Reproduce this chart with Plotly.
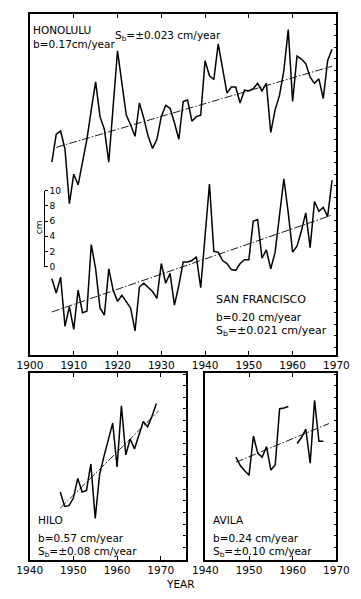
import plotly.graph_objects as go

W, H = 361, 599

# ---- annual mean sea level, cm (Honolulu shifted upward on the shared axis) ----
years_top = list(range(1905, 1970))
honolulu = [13.8, 17.5, 17.9, 15.5, 8.3, 12.2, 10.8, 13.8, 16.8, 20.7,
            24.4, 19.8, 18.1, 13.8, 21.1, 28.5, 24.2, 20.0, 18.7, 17.2,
            21.6, 19.6, 17.2, 15.6, 16.8, 19.8, 21.3, 20.9, 19.0, 16.8,
            21.8, 22.0, 19.2, 19.8, 20.0, 27.2, 25.2, 24.7, 29.4, 26.3,
            22.9, 23.7, 23.7, 21.6, 23.3, 23.2, 23.5, 24.2, 23.2, 24.2,
            17.7, 20.7, 22.6, 25.9, 31.3, 21.8, 27.8, 27.4, 26.8, 25.0,
            24.2, 24.8, 22.2, 27.2, 28.7]
san_francisco = [-1.6, -3.5, -1.4, -7.9, -5.3, -8.3, -3.1, -6.1, -5.9, 2.9,
                 -0.3, -5.5, -6.4, -0.3, -3.1, -4.6, -3.8, -4.6, -5.5, -8.5,
                 -2.7, -2.2, -2.7, -3.3, -4.2, 0.4, -2.2, -0.9, -5.1, -2.5,
                 0.6, 0.6, 0.8, 1.3, -2.8, 3.8, 10.9, 2.0, 1.9, 0.8,
                 0.4, -0.4, -0.5, 0.4, 0.9, 0.9, 6.0, 6.2, 1.1, 2.2,
                 -0.3, 1.9, 7.1, 11.6, 7.1, 1.9, 2.7, 4.7, 7.1, 2.5,
                 8.6, 7.3, 7.8, 6.6, 11.4]

years_hilo = list(range(1947, 1970))
hilo = [8.8, 6.9, 7.0, 8.0, 10.6, 8.8, 9.0, 12.5, 5.3, 11.1,
        13.5, 15.8, 17.9, 12.1, 20.2, 13.7, 15.8, 14.5, 16.4, 18.1,
        17.4, 18.8, 20.5]

years_avila = list(range(1947, 1968))
avila = [13.4, 12.3, 11.6, 11.0, 16.2, 13.9, 13.4, 14.8, 11.7, 12.4,
         19.8, 19.9, 20.1, None, 15.2, 16.0, 17.1, 12.6, 20.9, 15.5,
         15.5]

# ---- least-squares trends: slope b (cm/year) through a central point ----
trend_station = ["HONOLULU", "SAN FRANCISCO", "HILO", "AVILA"]
trend_b = [0.17, 0.20, 0.57, 0.24]
trend_sb = ["0.023", "0.021", "0.08", "0.10"]
trend_mid_year = [1937.5, 1937.0, 1958.2, 1957.7]
trend_mid_value = [21.1, 0.4, 13.05, 15.3]
trend_first = [1906, 1905, 1947, 1947]
trend_last = [1969, 1969, 1969.5, 1968.3]
trend_axes = [("x", "y"), ("x", "y"), ("x2", "y2"), ("x3", "y3")]

scale_ticks = [0, 2, 4, 6, 8, 10]
top_ticks = list(range(1900, 1971, 10))
low_ticks = list(range(1940, 1971, 10))

FONT = "DejaVu Sans"
PX_PER_CM = 7.7


def py(px):
    """Paper fraction from a pixel row measured from the top."""
    return 1 - px / H


def px_(px):
    return px / W


fig = go.Figure()

series_line = dict(color="black", width=1.5)
trend_line = dict(color="black", width=0.9, dash="8px,2px,1.5px,2px")

fig.add_trace(go.Scatter(x=years_top, y=honolulu, mode="lines", line=series_line,
                         xaxis="x", yaxis="y", showlegend=False))
fig.add_trace(go.Scatter(x=years_top, y=san_francisco, mode="lines", line=series_line,
                         xaxis="x", yaxis="y", showlegend=False))
fig.add_trace(go.Scatter(x=years_hilo, y=hilo, mode="lines", line=series_line,
                         xaxis="x2", yaxis="y2", showlegend=False))
fig.add_trace(go.Scatter(x=years_avila, y=avila, mode="lines", line=series_line,
                         connectgaps=False, xaxis="x3", yaxis="y3", showlegend=False))

for b, ym, vm, y0, y1, (xa, ya) in zip(trend_b, trend_mid_year, trend_mid_value,
                                        trend_first, trend_last, trend_axes):
    xs = [y0, y1]
    ys = [vm + b * (x - ym) for x in xs]
    fig.add_trace(go.Scatter(x=xs, y=ys, mode="lines", line=trend_line,
                             xaxis=xa, yaxis=ya, showlegend=False))

# empty trace so the free-standing scale bar axis is drawn
fig.add_trace(go.Scatter(x=[None], y=[None], mode="lines", xaxis="x", yaxis="y4",
                         showlegend=False, hoverinfo="skip"))

# pixel frame of each panel
top_frame = dict(left=18.3, right=348.5, top=9.5, bottom=356.0)
hilo_frame = dict(left=18.0, right=186.0, top=374.0, bottom=564.0)
avila_frame = dict(left=207.3, right=348.5, top=374.0, bottom=564.0)
ZERO_ROW = 266.0  # pixel row of 0 cm on the scale bar

axis_common = dict(showline=True, linecolor="black", linewidth=1.5, showgrid=False,
                   zeroline=False, color="black", ticklabeloverflow="allow",
                   tickfont=dict(family=FONT, size=10.5, color="black"))

x_common = dict(axis_common, ticks="inside", ticklen=4, tickwidth=1, mirror="ticks")
y_common = dict(axis_common, side="right", ticks="inside", ticklen=3, tickwidth=1,
                mirror=True, showticklabels=False, tick0=0, dtick=1.524)

top_range = [(ZERO_ROW - top_frame["bottom"]) / PX_PER_CM,
             (ZERO_ROW - top_frame["top"]) / PX_PER_CM]
low_top_cm = 24.55
low_range = [low_top_cm - (hilo_frame["bottom"] - hilo_frame["top"]) / PX_PER_CM,
             low_top_cm]
hilo_right = 1940 + (hilo_frame["right"] - hilo_frame["left"]) / (
    (avila_frame["right"] - avila_frame["left"]) / 30)

fig.update_layout(
    width=W, height=H,
    margin=dict(l=0, r=0, t=0, b=0),
    paper_bgcolor="white", plot_bgcolor="rgba(0,0,0,0)",
    font=dict(family=FONT, color="black"),
    xaxis=dict(x_common, domain=[px_(top_frame["left"]), px_(top_frame["right"])],
               range=[1900, 1970], tickvals=top_ticks, anchor="y"),
    yaxis=dict(y_common, domain=[py(top_frame["bottom"]), py(top_frame["top"])],
               range=top_range, anchor="x"),
    xaxis2=dict(x_common, domain=[px_(hilo_frame["left"]), px_(hilo_frame["right"])],
                range=[1940, hilo_right], tickvals=low_ticks, anchor="y2"),
    yaxis2=dict(y_common, domain=[py(hilo_frame["bottom"]), py(hilo_frame["top"])],
                range=low_range, anchor="x2"),
    xaxis3=dict(x_common, domain=[px_(avila_frame["left"]), px_(avila_frame["right"])],
                range=[1940, 1970], tickvals=low_ticks, anchor="y3"),
    yaxis3=dict(y_common, domain=[py(avila_frame["bottom"]), py(avila_frame["top"])],
                range=low_range, anchor="x3"),
    yaxis4=dict(domain=[py(ZERO_ROW), py(ZERO_ROW - 10 * PX_PER_CM)], range=[0, 10],
                anchor="free", position=px_(33), side="right",
                showline=True, linecolor="black", linewidth=1, showgrid=False,
                zeroline=False, ticks="outside", ticklen=3, tickwidth=1,
                tickvals=scale_ticks, color="black", ticklabeloverflow="allow",
                tickfont=dict(family=FONT, size=9, color="black")),
)


def label(text, x, y, size=10.5, **kw):
    fig.add_annotation(text=text, x=px_(x), y=py(y), xref="paper", yref="paper",
                       xanchor=kw.pop("xanchor", "left"), yanchor="middle",
                       showarrow=False, borderpad=0,
                       font=dict(family=FONT, size=size, color="black"), **kw)


def sb(v):
    return f"S<sub>b</sub>=±{v} cm/year"


# Honolulu
label(trend_station[0], 21, 25)
label(f"b={trend_b[0]:.2f}cm/year", 21, 40)
label(sb(trend_sb[0]), 109, 32)
# San Francisco
label(trend_station[1], 218, 299, size=11)
label(f"b={trend_b[1]:.2f} cm/year", 218, 317)
label(sb(trend_sb[1]), 218, 332, size=11)
# Hilo
label(trend_station[2], 26, 524)
label(f"b={trend_b[2]:.2f} cm/year", 26, 542)
label(sb(trend_sb[2]), 26, 556)
# Avila
label(trend_station[3], 214, 524)
label(f"b={trend_b[3]:.2f} cm/year", 214, 542)
label(sb(trend_sb[3]), 214, 556)

# scale bar unit and shared x title
label("cm", 28, 226, size=9, textangle=-90, xanchor="center")
label("YEAR", 181, 589, size=10.5, xanchor="center")

fig.write_html("out.html", config={"displayModeBar": False})

# the page should start flush at the window's top-left corner
with open("out.html", encoding="utf-8") as fh:
    page = fh.read()
page = page.replace("<head>", "<head><style>html,body{margin:0;padding:0;}</style>", 1)
with open("out.html", "w", encoding="utf-8") as fh:
    fh.write(page)
